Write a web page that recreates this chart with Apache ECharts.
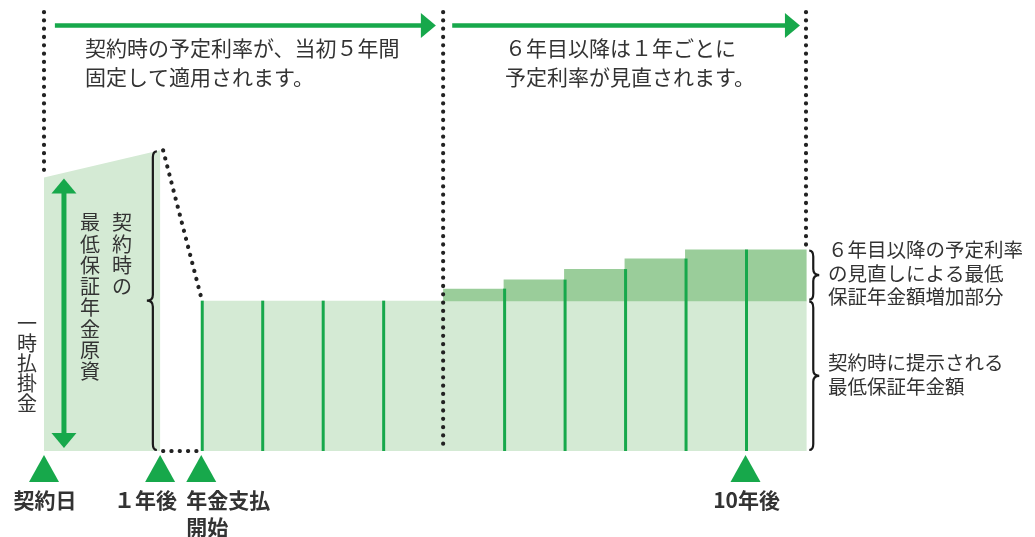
<!DOCTYPE html>
<html><head><meta charset="utf-8">
<script src="https://cdn.jsdelivr.net/npm/echarts/dist/echarts.min.js"></script>
<style>html,body{margin:0;padding:0;background:#fff}#c{width:1035px;height:537px}</style>
</head><body><div id="c"></div><script>
// ---------------- data ----------------
const payYears = [1, 2, 3, 4, 5, 6, 7, 8, 9, 10];
const guaranteedAnnuity = [100, 100, 100, 100, 100, 100, 100, 100, 100, 100];
const revisedAnnuity = [100, 100, 100, 100, 108, 114, 121, 128, 134, 134];
const premiumValue = 182;      // 一時払掛金
const fundAtYear1 = 200;       // 契約時の最低保証年金原資（1年後）
const contractDay = 0;
const oneYear = 1.92;
const payStart = 2.6;
const fixedPeriod = [0, 6.6];       // 当初5年間
const revisionPeriod = [6.6, 12.6]; // 6年目以降
const timeMarks = [0, 1.92, 2.6, 11.6];
const timeLabels = ['契約日', '１年後', '年金支払\n開始', '10年後'];
const topNotes = ['契約時の予定利率が、当初５年間\n固定して適用されます。', '６年目以降は１年ごとに\n予定利率が見直されます。'];
const rightNotes = ['６年目以降の予定利率\nの見直しによる最低\n保証年金額増加部分', '契約時に提示される\n最低保証年金額'];
const verticalNotes = ['一時払掛金', '最低保証年金原資', '契約時の'];

// ---------------- style ----------------
const FONT = '"Noto Sans CJK JP", "Noto Sans", sans-serif';
const LIGHT = '#d4ead4';
const DARK = '#9acd9a';
const GREEN = '#17a84b';
const INK = '#333333';
const TOPY = 292;

const dotStyle = { color: '#222', width: 4.2, type: [0.1, 8.2], cap: 'round' };
function dotted(points) {
  return { type: 'line', data: points, symbol: 'none', silent: true, lineStyle: dotStyle, z: 5 };
}
function vert(s) { return s.split('').join('\n'); }

function bracePath(x, yTop, yBot, dir) {
  const r = 6, ym = (yTop + yBot) / 2;
  const xe = x - dir * 4, xt = x + dir * 6;
  return `M${xe},${yTop} Q${x},${yTop} ${x},${yTop + r} L${x},${ym - r} Q${x},${ym} ${xt},${ym} ` +
         `Q${x},${ym} ${x},${ym + r} L${x},${yBot - r} Q${x},${yBot} ${xe},${yBot}`;
}

const chart = echarts.init(document.getElementById('c'));
const option = {
  animation: false,
  grid: { left: 44, right: 229, top: 0, bottom: 86 },
  xAxis: { type: 'value', min: 0, max: 12.6, show: false },
  yAxis: { type: 'value', min: 0, max: 300, show: false },
  series: [
    // left premium area
    {
      type: 'custom', silent: true, z: 1,
      data: [[contractDay, oneYear, premiumValue, fundAtYear1]],
      renderItem: (p, api) => {
        const pts = [api.coord([api.value(0), 0]), api.coord([api.value(0), api.value(2)]),
                     api.coord([api.value(1), api.value(3)]), api.coord([api.value(1), 0])];
        return { type: 'polygon', shape: { points: pts }, style: { fill: LIGHT } };
      }
    },
    // guaranteed annuity bars
    {
      type: 'custom', silent: true, z: 1,
      data: payYears.map((y, i) => [payStart + i, payStart + i + 1, 0, guaranteedAnnuity[i]]),
      encode: { x: [0, 1], y: [2, 3] },
      renderItem: (p, api) => {
        const a = api.coord([api.value(0), api.value(2)]);
        const b = api.coord([api.value(1), api.value(3)]);
        return { type: 'rect', shape: { x: a[0], y: b[1], width: b[0] - a[0] + 0.6, height: a[1] - b[1] }, style: { fill: LIGHT } };
      }
    },
    // increase part
    {
      type: 'custom', silent: true, z: 2,
      data: payYears.map((y, i) => [payStart + i, payStart + i + 1, guaranteedAnnuity[i], revisedAnnuity[i]]),
      encode: { x: [0, 1], y: [2, 3] },
      renderItem: (p, api) => {
        if (api.value(3) <= api.value(2)) return null;
        const a = api.coord([api.value(0), api.value(2)]);
        const b = api.coord([api.value(1), api.value(3)]);
        return { type: 'rect', shape: { x: a[0], y: b[1], width: b[0] - a[0] + 0.6, height: a[1] - b[1] + 0.5 }, style: { fill: DARK } };
      }
    },
    // year dividers
    {
      type: 'custom', silent: true, z: 3,
      data: payYears.map((y, i) => [payStart + i, Math.min(revisedAnnuity[i], revisedAnnuity[Math.max(0, i - 1)]), i]),
      renderItem: (p, api) => {
        if (api.value(2) === 4) return null; // covered by the dotted period line
        const a = api.coord([api.value(0), 0]);
        const b = api.coord([api.value(0), api.value(1)]);
        return { type: 'line', shape: { x1: a[0] + 1, y1: a[1], x2: b[0] + 1, y2: b[1] }, style: { stroke: GREEN, lineWidth: 3 } };
      }
    },
    // dotted guide lines
    dotted([[fixedPeriod[0], TOPY], [fixedPeriod[0], premiumValue + 1]]),
    dotted([[fixedPeriod[1], TOPY], [fixedPeriod[1], 0]]),
    dotted([[revisionPeriod[1], TOPY], [revisionPeriod[1], revisedAnnuity[9] + 3]]),
    dotted([[oneYear + 0.05, fundAtYear1], [payStart, guaranteedAnnuity[0] + 2]]),
    dotted([[oneYear + 0.05, 0], [payStart - 0.02, 0]]),
    // period arrows
    {
      type: 'custom', silent: true, z: 4,
      data: [[fixedPeriod[0] + 0.18, fixedPeriod[1] - 0.12, 283], [revisionPeriod[0] + 0.15, revisionPeriod[1] - 0.1, 283]],
      renderItem: (p, api) => {
        const a = api.coord([api.value(0), api.value(2)]);
        const b = api.coord([api.value(1), api.value(2)]);
        const hl = 15, hw = 12.5;
        return { type: 'group', children: [
          { type: 'line', shape: { x1: a[0], y1: a[1], x2: b[0] - hl + 1, y2: b[1] }, style: { stroke: GREEN, lineWidth: 4.5 } },
          { type: 'polygon', shape: { points: [[b[0], b[1]], [b[0] - hl, b[1] - hw], [b[0] - hl, b[1] + hw]] }, style: { fill: GREEN } }
        ] };
      }
    },
    // double arrow for premium
    {
      type: 'custom', silent: true, z: 4,
      data: [[0.33, 0, premiumValue]],
      renderItem: (p, api) => {
        const a = api.coord([api.value(0), api.value(1)]);
        const b = api.coord([api.value(0), api.value(2)]);
        a[1] -= 3; b[1] += 1;
        const hl = 15, hw = 12.5;
        return { type: 'group', children: [
          { type: 'line', shape: { x1: a[0], y1: a[1] - hl + 1, x2: b[0], y2: b[1] + hl - 1 }, style: { stroke: GREEN, lineWidth: 5 } },
          { type: 'polygon', shape: { points: [[b[0], b[1]], [b[0] - hw, b[1] + hl], [b[0] + hw, b[1] + hl]] }, style: { fill: GREEN } },
          { type: 'polygon', shape: { points: [[a[0], a[1]], [a[0] - hw, a[1] - hl], [a[0] + hw, a[1] - hl]] }, style: { fill: GREEN } }
        ] };
      }
    },
    // braces
    {
      type: 'custom', silent: true, z: 6,
      data: [[1.80, fundAtYear1, 0, -1], [12.72, revisedAnnuity[9], guaranteedAnnuity[9], 1], [12.72, guaranteedAnnuity[9], 0, 1]],
      renderItem: (p, api) => {
        const a = api.coord([api.value(0), api.value(1)]);
        const b = api.coord([api.value(0), api.value(2)]);
        return { type: 'path', shape: { pathData: bracePath(a[0], a[1] + 1, b[1] - 1, api.value(3)) },
                 style: { stroke: '#1a1a1a', lineWidth: 2.2, fill: null } };
      }
    },
    // time marks
    {
      type: 'custom', silent: true, z: 6,
      data: timeMarks.map((x, i) => [x, i]),
      renderItem: (p, api) => {
        const i = api.value(1);
        const c = api.coord([api.value(0), 0]);
        const y0 = c[1] + 4, h = 27, hw = 15;
        let align = 'center', lx = c[0] + 1;
        if (timeLabels[i].indexOf('\n') >= 0) { align = 'left'; lx = c[0] - 15; }
        else if (i === 1) { align = 'right'; lx = c[0] + 17; }
        return { type: 'group', children: [
          { type: 'polygon', shape: { points: [[c[0], y0], [c[0] - hw, y0 + h], [c[0] + hw, y0 + h]] }, style: { fill: GREEN } },
          { type: 'text', style: { text: timeLabels[i], x: lx, y: c[1] + 35.5,
              textAlign: align, textVerticalAlign: 'top', lineHeight: 27,
              font: 'bold 21px ' + FONT, fill: INK } }
        ] };
      }
    }
  ],
  graphic: [
    { type: 'text', z: 100, x: 85, y: 33.5, style: { text: topNotes[0], font: '21px ' + FONT, fill: INK, lineHeight: 29, textVerticalAlign: 'top' } },
    { type: 'text', z: 100, x: 505, y: 33.5, style: { text: topNotes[1], font: '21px ' + FONT, fill: INK, lineHeight: 29, textVerticalAlign: 'top' } },
    { type: 'text', z: 100, x: 828, y: 238, style: { text: rightNotes[0], font: '19.5px ' + FONT, fill: INK, lineHeight: 23.5, textVerticalAlign: 'top' } },
    { type: 'text', z: 100, x: 828, y: 351, style: { text: rightNotes[1], font: '19.5px ' + FONT, fill: INK, lineHeight: 24, textVerticalAlign: 'top' } },
    { type: 'text', z: 100, x: 27, y: 313, style: { text: vert(verticalNotes[0]), font: '20px ' + FONT, fill: INK, lineHeight: 20, textAlign: 'center', textVerticalAlign: 'top' } },
    { type: 'text', z: 100, x: 90, y: 212, style: { text: vert(verticalNotes[1]), font: '20px ' + FONT, fill: INK, lineHeight: 21.3, textAlign: 'center', textVerticalAlign: 'top' } },
    { type: 'text', z: 100, x: 122, y: 212, style: { text: vert(verticalNotes[2]), font: '20px ' + FONT, fill: INK, lineHeight: 21.3, textAlign: 'center', textVerticalAlign: 'top' } }
  ]
};
chart.setOption(option);
</script></body></html>
